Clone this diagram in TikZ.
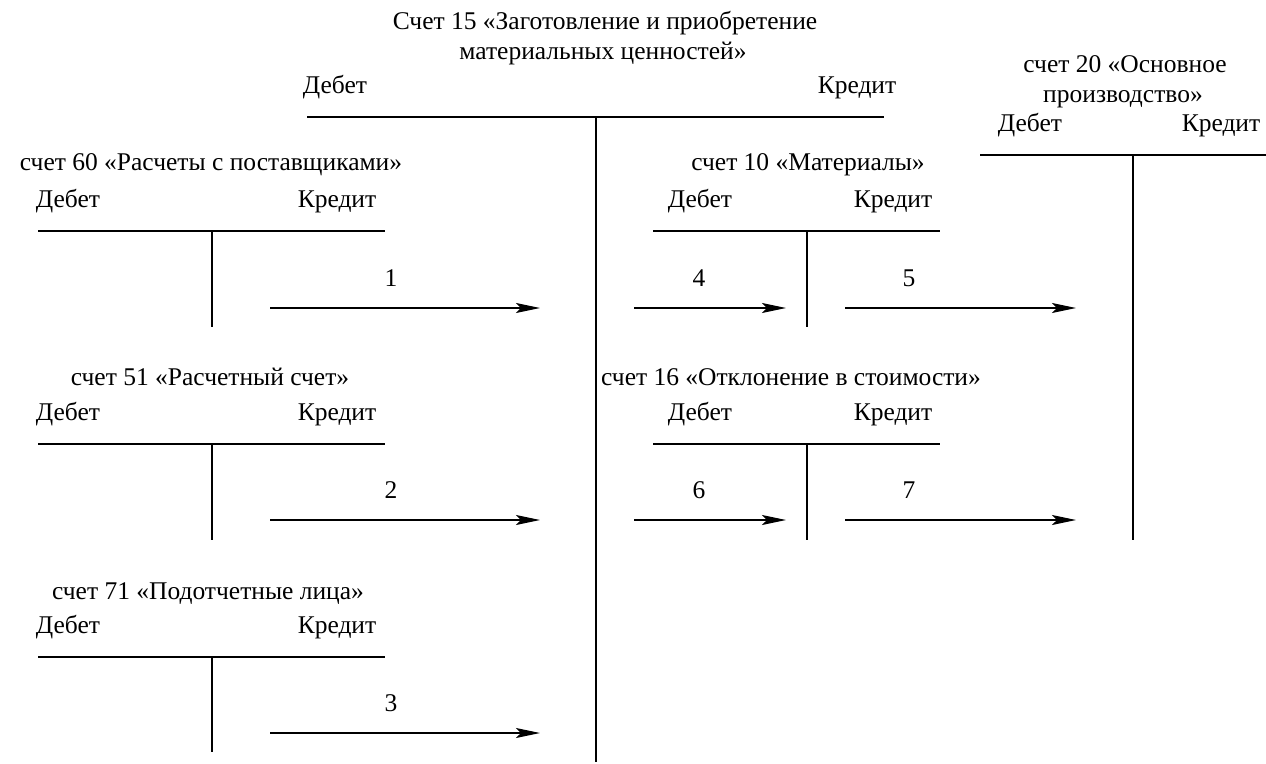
\documentclass[tikz,border=0pt]{standalone}
\usepackage{fontspec}
\setmainfont{Liberation Serif}
\usetikzlibrary{arrows.meta}
\begin{document}
\begin{tikzpicture}[x=1pt,y=-1pt,
  txt/.style={anchor=base,inner sep=0pt,font=\fontsize{25.5}{30}\selectfont},
  acc/.style={line width=1.2pt},
  flow/.style={line width=1.2pt,-{Stealth[length=24pt,width=10pt,inset=5pt]}}]
\useasboundingbox (0,0) rectangle (1266,763);
% account 15
\node[txt] (t15a) at (605,29) {Счет 15 «Заготовление и приобретение};
\node[txt] (t15b) at (603,59) {материальных ценностей»};
\node[txt] (d15) at (335,93) {Дебет};
\node[txt] (k15) at (857,93) {Кредит};
\coordinate (h15l) at (307,117); \coordinate (h15r) at (884,117);
\coordinate (v15t) at (596,117); \coordinate (v15b) at (596,762);
\draw[acc] (h15l) -- (h15r); \draw[acc] (v15t) -- (v15b);
% account 20
\node[txt] (t20a) at (1125,72) {счет 20 «Основное};
\node[txt] (t20b) at (1123,102) {производство»};
\node[txt] (d20) at (1030,131) {Дебет};
\node[txt] (k20) at (1221,131) {Кредит};
\coordinate (h20l) at (980,155); \coordinate (h20r) at (1266,155);
\coordinate (v20t) at (1133,155); \coordinate (v20b) at (1133,540);
\draw[acc] (h20l) -- (h20r); \draw[acc] (v20t) -- (v20b);
% account 60
\node[txt] (t60) at (211,170) {счет 60 «Расчеты с поставщиками»};
\node[txt] (d60) at (68,207) {Дебет};
\node[txt] (k60) at (337,207) {Кредит};
\coordinate (h60l) at (38,231); \coordinate (h60r) at (385,231);
\coordinate (v60t) at (212,231); \coordinate (v60b) at (212,327);
\draw[acc] (h60l) -- (h60r); \draw[acc] (v60t) -- (v60b);
% account 51
\node[txt] (t51) at (210,385) {счет 51 «Расчетный счет»};
\node[txt] (d51) at (68,420) {Дебет};
\node[txt] (k51) at (337,420) {Кредит};
\coordinate (h51l) at (38,444); \coordinate (h51r) at (385,444);
\coordinate (v51t) at (212,444); \coordinate (v51b) at (212,540);
\draw[acc] (h51l) -- (h51r); \draw[acc] (v51t) -- (v51b);
% account 71
\node[txt] (t71) at (208,599) {счет 71 «Подотчетные лица»};
\node[txt] (d71) at (68,633) {Дебет};
\node[txt] (k71) at (337,633) {Кредит};
\coordinate (h71l) at (38,657); \coordinate (h71r) at (385,657);
\coordinate (v71t) at (212,657); \coordinate (v71b) at (212,752);
\draw[acc] (h71l) -- (h71r); \draw[acc] (v71t) -- (v71b);
% account 10
\node[txt] (t10) at (808,170) {счет 10 «Материалы»};
\node[txt] (d10) at (700,207) {Дебет};
\node[txt] (k10) at (893,207) {Кредит};
\coordinate (h10l) at (653,231); \coordinate (h10r) at (940,231);
\coordinate (v10t) at (807,231); \coordinate (v10b) at (807,327);
\draw[acc] (h10l) -- (h10r); \draw[acc] (v10t) -- (v10b);
% account 16
\node[txt] (t16) at (791,385) {счет 16 «Отклонение в стоимости»};
\node[txt] (d16) at (700,420) {Дебет};
\node[txt] (k16) at (893,420) {Кредит};
\coordinate (h16l) at (653,444); \coordinate (h16r) at (940,444);
\coordinate (v16t) at (807,444); \coordinate (v16b) at (807,540);
\draw[acc] (h16l) -- (h16r); \draw[acc] (v16t) -- (v16b);
% flows
\coordinate (a1s) at (270,308); \coordinate (a1e) at (540,308);
\coordinate (a2s) at (270,520); \coordinate (a2e) at (540,520);
\coordinate (a3s) at (270,733); \coordinate (a3e) at (540,733);
\coordinate (a4s) at (634,308); \coordinate (a4e) at (786,308);
\coordinate (a5s) at (845,308); \coordinate (a5e) at (1076,308);
\coordinate (a6s) at (634,520); \coordinate (a6e) at (786,520);
\coordinate (a7s) at (845,520); \coordinate (a7e) at (1076,520);
\draw[flow] (a1s) -- (a1e);
\draw[flow] (a2s) -- (a2e);
\draw[flow] (a3s) -- (a3e);
\draw[flow] (a4s) -- (a4e);
\draw[flow] (a5s) -- (a5e);
\draw[flow] (a6s) -- (a6e);
\draw[flow] (a7s) -- (a7e);
\node[txt] (n1) at (391,286) {1};
\node[txt] (n2) at (391,498) {2};
\node[txt] (n3) at (391,711) {3};
\node[txt] (n4) at (699,286) {4};
\node[txt] (n5) at (909,286) {5};
\node[txt] (n6) at (699,498) {6};
\node[txt] (n7) at (909,498) {7};
\end{tikzpicture}
\end{document}
